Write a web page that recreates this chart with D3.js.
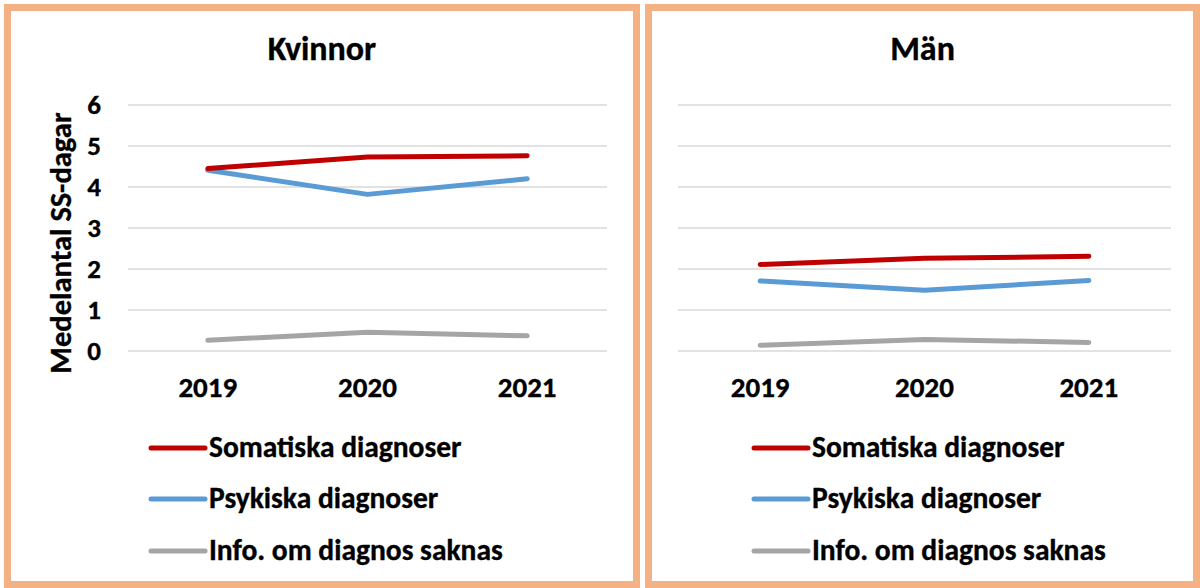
<!DOCTYPE html>
<html>
<head>
<meta charset="utf-8">
<script src="https://cdn.jsdelivr.net/npm/d3@7"></script>
<style>
  body { margin: 0; background: #fff; }
  text { font-family: Carlito, Calibri, 'Liberation Sans', sans-serif; font-weight: bold; fill: #000; stroke: #000; stroke-width: 0.35; }
</style>
</head>
<body>
<svg id="chart" width="1200" height="588"></svg>
<script>
// data
const years = ['2019', '2020', '2021'];
const yTicks = [0, 1, 2, 3, 4, 5, 6];
const seriesNames = ['Somatiska diagnoser', 'Psykiska diagnoser', 'Info. om diagnos saknas'];
const seriesColors = ['#C00000', '#5B9BD5', '#A5A5A5'];

const kvinnorSomatiska = [4.45, 4.73, 4.76];
const kvinnorPsykiska = [4.41, 3.82, 4.2];
const kvinnorSaknas = [0.26, 0.46, 0.37];

const manSomatiska = [2.11, 2.26, 2.31];
const manPsykiska = [1.71, 1.48, 1.72];
const manSaknas = [0.14, 0.28, 0.21];

const svg = d3.select('#chart');

const panels = [
  { title: 'Kvinnor', x0: 4, x1: 640, plot: [128, 607], legendX: 151, yLabels: true,
    values: [kvinnorSomatiska, kvinnorPsykiska, kvinnorSaknas] },
  { title: 'Män', x0: 645, x1: 1200, plot: [678, 1171], legendX: 754, yLabels: false,
    values: [manSomatiska, manPsykiska, manSaknas] }
];

const borderW = 7;
const yTop = 105, yBottom = 351;

const y = d3.scaleLinear().domain([0, 6]).range([yBottom, yTop]);

panels.forEach(p => {
  const g = svg.append('g');

  // panel frame
  g.append('rect')
    .attr('x', p.x0 + borderW / 2)
    .attr('y', 4 + borderW / 2)
    .attr('width', p.x1 - p.x0 - borderW)
    .attr('height', 584 - borderW)
    .attr('fill', '#fff')
    .attr('stroke', '#F4B183')
    .attr('stroke-width', borderW);

  g.append('text')
    .attr('x', (p.x0 + p.x1) / 2)
    .attr('y', 60)
    .attr('text-anchor', 'middle')
    .attr('font-size', 34)
    .text(p.title);

  const x = d3.scalePoint().domain(years).range(p.plot).padding(0.5);

  // gridlines
  g.append('g')
    .selectAll('line')
    .data(yTicks)
    .join('line')
    .attr('x1', p.plot[0])
    .attr('x2', p.plot[1])
    .attr('y1', d => y(d))
    .attr('y2', d => y(d))
    .attr('stroke', '#D9D9D9')
    .attr('stroke-width', 1.5);

  if (p.yLabels) {
    g.append('g')
      .selectAll('text')
      .data(yTicks)
      .join('text')
      .attr('x', 101)
      .attr('y', d => y(d) + 9)
      .attr('text-anchor', 'end')
      .attr('font-size', 27)
      .text(d => d);

    g.append('text')
      .attr('transform', `translate(71,${(yTop + yBottom) / 2 + 15}) rotate(-90)`)
      .attr('text-anchor', 'middle')
      .attr('font-size', 30.5)
      .text('Medelantal SS-dagar');
  }

  // x labels
  g.append('g')
    .selectAll('text')
    .data(years)
    .join('text')
    .attr('x', d => x(d))
    .attr('y', 397)
    .attr('text-anchor', 'middle')
    .attr('font-size', 29)
    .text(d => d);

  const line = d3.line()
    .x((d, i) => x(years[i]))
    .y(d => y(d));

  // draw in reverse so the red line sits on top
  p.values.map((v, i) => ({ v, i })).reverse().forEach(s => {
    g.append('path')
      .datum(s.v)
      .attr('fill', 'none')
      .attr('stroke', seriesColors[s.i])
      .attr('stroke-width', 5)
      .attr('stroke-linecap', 'round')
      .attr('stroke-linejoin', 'round')
      .attr('d', line);
  });

  // legend
  const legendRows = [448, 499, 551];
  seriesNames.forEach((name, i) => {
    g.append('line')
      .attr('x1', p.legendX)
      .attr('x2', p.legendX + 54)
      .attr('y1', legendRows[i])
      .attr('y2', legendRows[i])
      .attr('stroke', seriesColors[i])
      .attr('stroke-width', 5)
      .attr('stroke-linecap', 'round');
    g.append('text')
      .attr('x', p.legendX + 58)
      .attr('y', legendRows[i] + 9)
      .attr('font-size', 29.5)
      .text(name);
  });
});
</script>
</body>
</html>
